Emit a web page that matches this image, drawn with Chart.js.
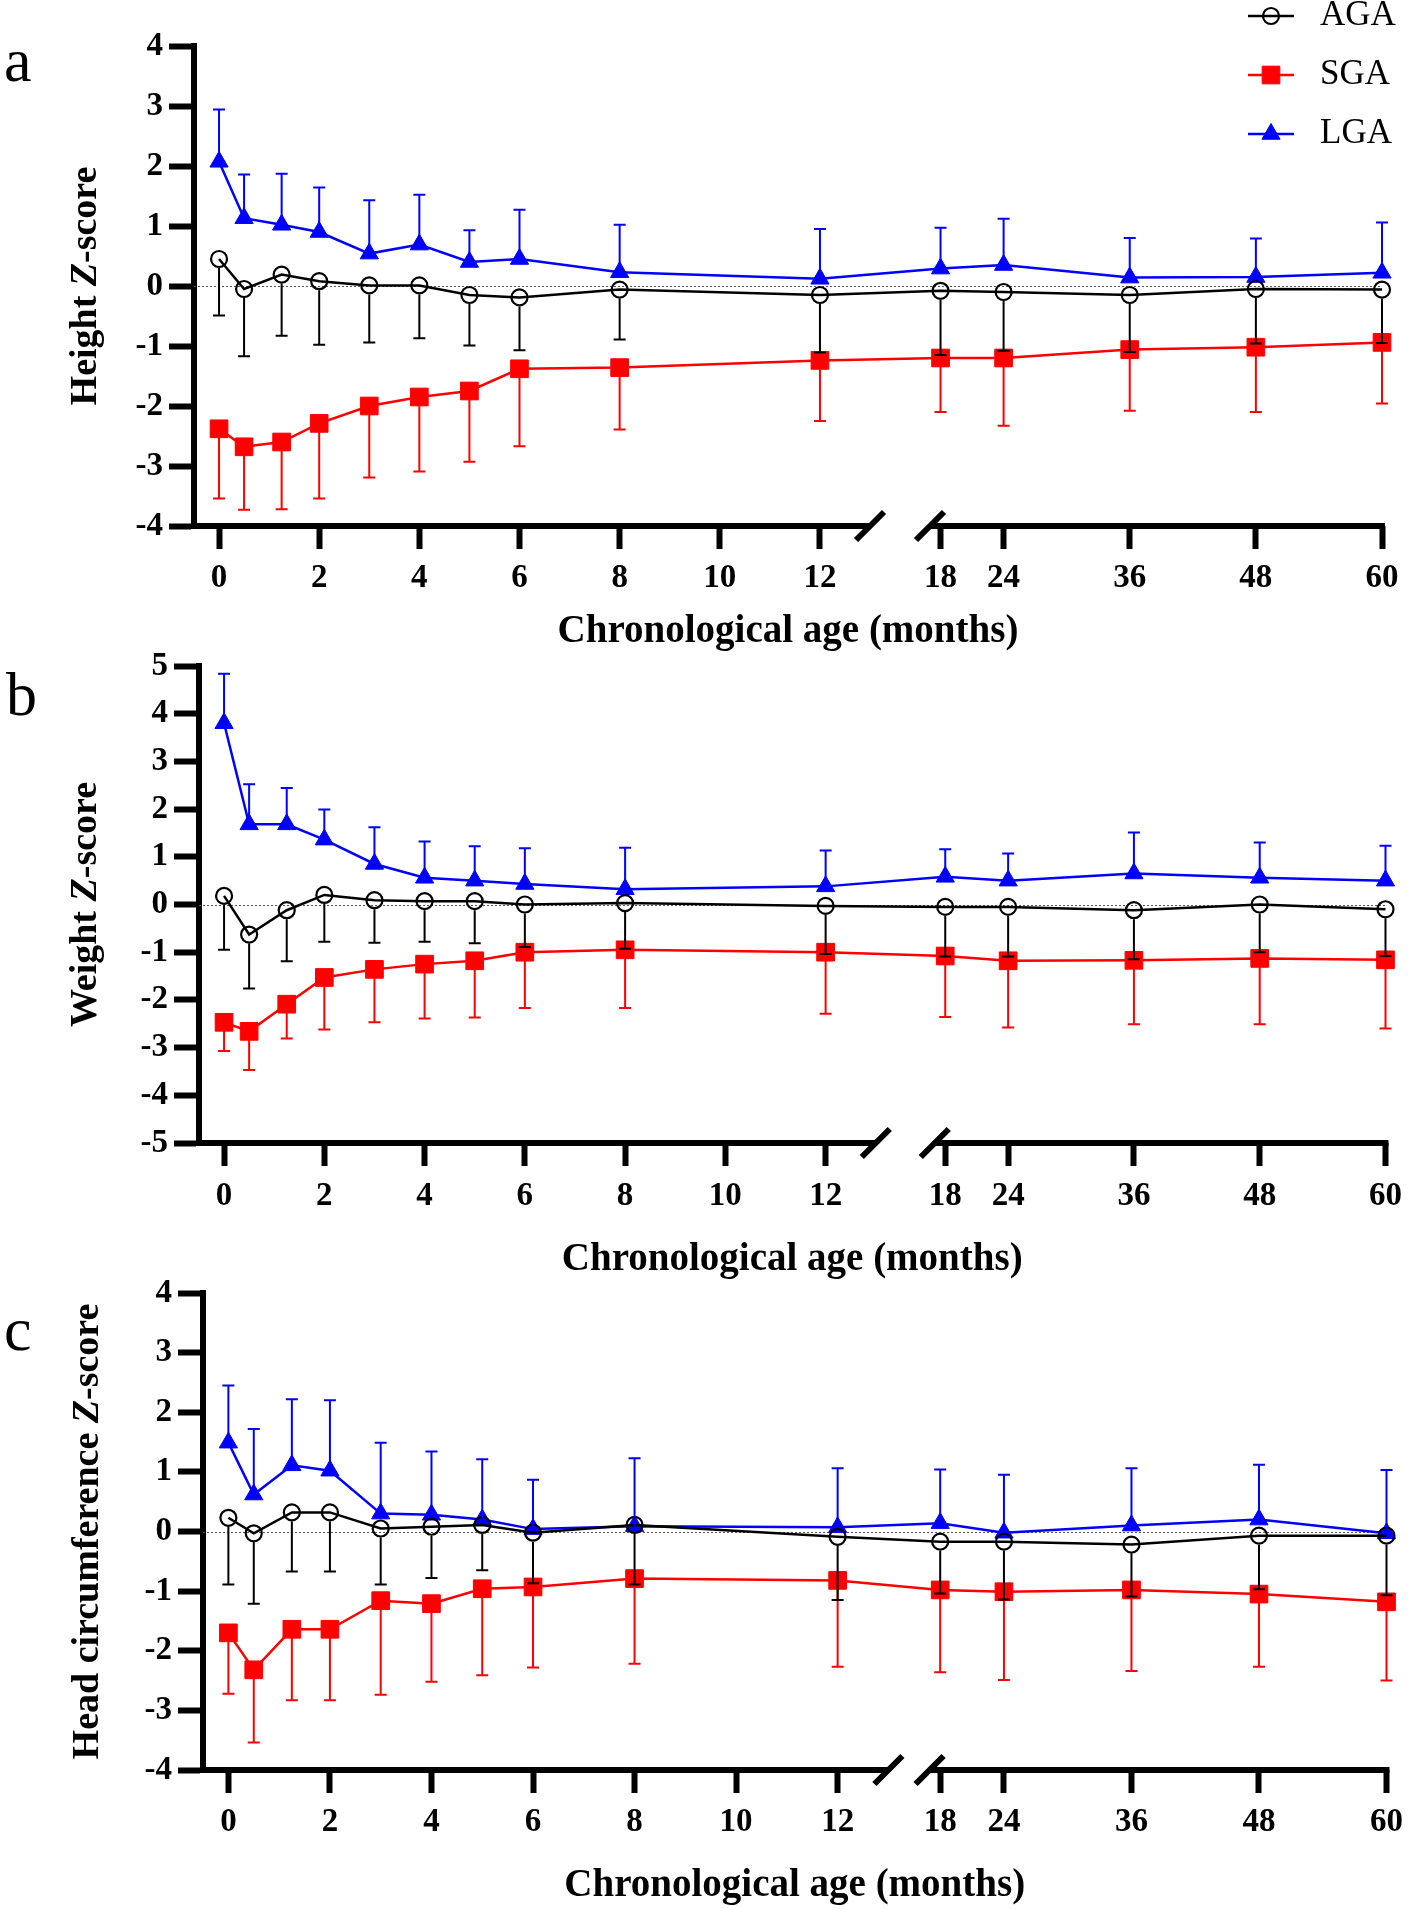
<!DOCTYPE html>
<html>
<head>
<meta charset="utf-8">
<title>Z-score by chronological age</title>
<script src="https://cdn.jsdelivr.net/npm/chart.js"></script>
<style>
  body { margin: 0; background: #fff; }
  .page { position: relative; width: 1416px; height: 1909px; overflow: hidden; background: #fff; }
  .page canvas { position: absolute; left: 0; }
</style>
</head>
<body>
<div class="page">
  <canvas id="chartA" width="1416" height="660" style="top:0px"></canvas>
  <canvas id="chartB" width="1416" height="645" style="top:640px"></canvas>
  <canvas id="chartC" width="1416" height="639" style="top:1270px"></canvas>
</div>
<script>
// time points in months
const months = [0, 0.5, 1.25, 2, 3, 4, 5, 6, 8, 12, 18, 24, 36, 48, 60];
const xTicks = [0, 2, 4, 6, 8, 10, 12, 18, 24, 36, 48, 60];
const groups = ['AGA', 'SGA', 'LGA'];

// a - height Z-score (mean, SD)
const heightAGA   = [0.45, -0.05, 0.19, 0.08, 0.01, 0.01, -0.15, -0.19, -0.06, -0.15, -0.08, -0.10, -0.15, -0.05, -0.06];
const heightAGAsd = [0.94, 1.12, 1.02, 1.06, 0.95, 0.88, 0.84, 0.88, 0.83, 0.96, 1.07, 0.98, 0.95, 0.91, 0.89];
const heightSGA   = [-2.38, -2.68, -2.60, -2.29, -2.00, -1.85, -1.75, -1.38, -1.36, -1.24, -1.20, -1.20, -1.06, -1.02, -0.94];
const heightSGAsd = [1.16, 1.05, 1.12, 1.25, 1.19, 1.24, 1.18, 1.29, 1.03, 1.01, 0.90, 1.13, 1.02, 1.08, 1.02];
const heightLGA   = [2.07, 1.13, 1.02, 0.90, 0.54, 0.69, 0.40, 0.45, 0.23, 0.12, 0.29, 0.35, 0.14, 0.15, 0.22];
const heightLGAsd = [0.87, 0.73, 0.85, 0.74, 0.89, 0.83, 0.53, 0.82, 0.79, 0.83, 0.68, 0.77, 0.66, 0.64, 0.84];

// b - weight Z-score
const weightAGA   = [0.18, -0.63, -0.12, 0.20, 0.09, 0.07, 0.07, 0.00, 0.03, -0.03, -0.05, -0.05, -0.12, 0.00, -0.10];
const weightAGAsd = [1.13, 1.13, 1.07, 0.98, 0.89, 0.85, 0.88, 0.89, 0.96, 1.01, 1.04, 1.04, 1.03, 1.00, 0.98];
const weightSGA   = [-2.47, -2.66, -2.09, -1.53, -1.36, -1.25, -1.18, -1.00, -0.95, -1.00, -1.08, -1.18, -1.17, -1.13, -1.16];
const weightSGAsd = [0.60, 0.81, 0.72, 1.09, 1.11, 1.14, 1.19, 1.17, 1.22, 1.29, 1.28, 1.40, 1.34, 1.38, 1.44];
const weightLGA   = [3.80, 1.68, 1.68, 1.36, 0.85, 0.56, 0.50, 0.43, 0.32, 0.38, 0.58, 0.50, 0.65, 0.56, 0.50];
const weightLGAsd = [1.04, 0.84, 0.76, 0.63, 0.77, 0.76, 0.72, 0.75, 0.87, 0.75, 0.58, 0.57, 0.86, 0.74, 0.73];

// c - head circumference Z-score
const headAGA   = [0.23, -0.03, 0.32, 0.32, 0.05, 0.08, 0.11, -0.02, 0.11, -0.09, -0.17, -0.17, -0.22, -0.07, -0.07];
const headAGAsd = [1.12, 1.18, 0.99, 0.99, 0.94, 0.86, 0.76, 0.85, 1.00, 1.06, 0.87, 0.97, 0.87, 0.90, 1.00];
const headSGA   = [-1.70, -2.32, -1.64, -1.64, -1.16, -1.21, -0.96, -0.93, -0.79, -0.82, -0.98, -1.01, -0.98, -1.05, -1.18];
const headSGAsd = [1.02, 1.22, 1.19, 1.19, 1.58, 1.31, 1.45, 1.35, 1.43, 1.45, 1.38, 1.48, 1.36, 1.22, 1.32];
const headLGA   = [1.49, 0.62, 1.11, 1.02, 0.30, 0.28, 0.20, 0.04, 0.09, 0.07, 0.14, -0.02, 0.10, 0.20, -0.03];
const headLGAsd = [0.96, 1.10, 1.11, 1.18, 1.19, 1.06, 1.01, 0.83, 1.14, 0.99, 0.90, 0.97, 0.96, 0.92, 1.06];

const FONT = '"Liberation Serif", "Times New Roman", serif';
Chart.defaults.font.family = FONT;
Chart.defaults.color = '#000';

// linear scale with a break between 12 and 18 months
class BrokenScale extends Chart.LinearScale {
  static id = 'broken';
  static defaults = {};
  fold(v) {
    const o = this.options;
    if (v <= (o.breakLo + o.breakHi) / 2) return v;
    return o.breakLo + o.breakGap + (v - o.breakHi) * o.breakScale;
  }
  getPixelForValue(v) {
    return super.getPixelForValue(this.fold(v));
  }
}
Chart.register(BrokenScale);

const styles = {
  AGA: { color: '#000000', pointStyle: 'circle', radius: 8, border: 2.2, fill: 'rgba(0,0,0,0)', dir: -1, gapPx: 9 },
  SGA: { color: '#ff0000', pointStyle: 'rect', radius: 12.5, border: 1, fill: '#ff0000', dir: -1, gapPx: 0 },
  LGA: { color: '#0000ff', pointStyle: 'triangle', radius: 10.5, border: 1, fill: '#0000ff', dir: 1, gapPx: 0 }
};

const panels = [
  { id: 'chartA', canvasTop: 0, canvasH: 660, letter: 'a', letterX: 4, letterY: 81,
    left: 194, right: 1382, plotTop: 46, plotBottom: 526, xTickPad: 13, titleY: 632,
    yTitle: ['Height ', 'Z', '-score'], yTitleX: 86, yMin: -4, yMax: 4,
    gap: 2.408, k: 0.2099, legend: true,
    means: [heightAGA, heightSGA, heightLGA], sds: [heightAGAsd, heightSGAsd, heightLGAsd] },
  { id: 'chartB', canvasTop: 640, canvasH: 645, letter: 'b', letterX: 6, letterY: 715,
    left: 199, right: 1393, plotTop: 666, plotBottom: 1143, xTickPad: 14, titleY: 1260,
    yTitle: ['Weight ', 'Z', '-score'], yTitleX: 86, yMin: -5, yMax: 5,
    gap: 2.386, k: 0.2091, legend: false,
    means: [weightAGA, weightSGA, weightLGA], sds: [weightAGAsd, weightSGAsd, weightLGAsd] },
  { id: 'chartC', canvasTop: 1270, canvasH: 639, letter: 'c', letterX: 4, letterY: 1350,
    left: 203, right: 1397, plotTop: 1293, plotBottom: 1770, xTickPad: 13, titleY: 1886,
    yTitle: ['Head circumference ', 'Z', '-score'], yTitleX: 88, yMin: -4, yMax: 4,
    gap: 2.02, k: 0.2093, legend: false,
    means: [headAGA, headSGA, headLGA], sds: [headAGAsd, headSGAsd, headLGAsd] }
];

function drawMarker(ctx, st, x, y) {
  ctx.beginPath();
  if (st.pointStyle === 'circle') {
    ctx.arc(x, y, st.radius, 0, Math.PI * 2);
  } else if (st.pointStyle === 'rect') {
    const s = st.radius * Math.SQRT1_2;
    ctx.rect(x - s, y - s, 2 * s, 2 * s);
  } else {
    for (let i = 0; i < 3; i++) {
      const t = i * 2 * Math.PI / 3;
      const px = x + Math.sin(t) * st.radius, py = y - Math.cos(t) * st.radius;
      if (i === 0) ctx.moveTo(px, py); else ctx.lineTo(px, py);
    }
    ctx.closePath();
  }
  ctx.fillStyle = st.fill;
  ctx.fill();
  ctx.lineWidth = st.border;
  ctx.strokeStyle = st.color;
  ctx.stroke();
}

function decor(p) {
  return {
    id: 'decor',
    beforeDatasetsDraw(chart) {
      const { ctx, chartArea: a } = chart;
      const y0 = Math.round(chart.scales.y.getPixelForValue(0)) + 0.5;
      ctx.save();
      ctx.strokeStyle = '#555';
      ctx.lineWidth = 1;
      ctx.setLineDash([2, 2]);
      ctx.beginPath();
      ctx.moveTo(a.left, y0);
      ctx.lineTo(a.right, y0);
      ctx.stroke();
      ctx.restore();
    },
    afterDatasetsDraw(chart) {
      // one-sided SD bars, black drawn last so its caps sit on the red squares
      const { ctx, scales: { y } } = chart;
      ctx.save();
      ctx.lineCap = 'butt';
      [1, 2, 0].forEach(i => {
        const ds = chart.data.datasets[i];
        const st = styles[ds.label];
        const meta = chart.getDatasetMeta(i);
        ctx.strokeStyle = st.color;
        ctx.lineWidth = 2;
        meta.data.forEach((pt, j) => {
          const end = y.getPixelForValue(ds.data[j].y + st.dir * ds.sd[j]);
          const start = pt.y - st.dir * st.gapPx;
          ctx.beginPath();
          ctx.moveTo(pt.x, start);
          ctx.lineTo(pt.x, end);
          ctx.moveTo(pt.x - 6, end);
          ctx.lineTo(pt.x + 6, end);
          ctx.stroke();
        });
      });
      ctx.restore();
    },
    afterDraw(chart) {
      const { ctx, chartArea: a, scales: { x } } = chart;
      ctx.save();
      // broken x axis
      const yb = a.bottom;
      const xl = x.getPixelForValue(13), xr = x.getPixelForValue(17);
      ctx.strokeStyle = '#000';
      ctx.lineWidth = 6;
      ctx.lineCap = 'butt';
      ctx.beginPath();
      ctx.moveTo(a.left - 3, yb);
      ctx.lineTo(xl, yb);
      ctx.moveTo(xr, yb);
      ctx.lineTo(a.right + 3, yb);
      ctx.stroke();
      [xl, xr].forEach(px => {
        ctx.beginPath();
        ctx.moveTo(px - 14, yb + 14);
        ctx.lineTo(px + 14, yb - 14);
        ctx.stroke();
      });

      // y title with italic Z
      const fonts = ['bold 38px ' + FONT, 'italic bold 38px ' + FONT, 'bold 38px ' + FONT];
      let total = 0;
      const widths = p.yTitle.map((t, i) => { ctx.font = fonts[i]; const w = ctx.measureText(t).width; total += w; return w; });
      ctx.translate(p.yTitleX, (a.top + a.bottom) / 2);
      ctx.rotate(-Math.PI / 2);
      ctx.fillStyle = '#000';
      ctx.textBaseline = 'middle';
      ctx.textAlign = 'left';
      let cx = -total / 2;
      p.yTitle.forEach((t, i) => { ctx.font = fonts[i]; ctx.fillText(t, cx, 0); cx += widths[i]; });
      ctx.restore();

      // panel letter
      ctx.save();
      ctx.font = '62px ' + FONT;
      ctx.fillStyle = '#000';
      ctx.textBaseline = 'alphabetic';
      ctx.fillText(p.letter, p.letterX, p.letterY - p.canvasTop);

      // legend
      if (p.legend) {
        const rows = [16, 75, 134];
        groups.forEach((g, i) => {
          const st = styles[g];
          const ry = rows[i];
          ctx.strokeStyle = st.color;
          ctx.lineWidth = 2.5;
          ctx.beginPath();
          ctx.moveTo(1248, ry);
          ctx.lineTo(1294, ry);
          ctx.stroke();
          drawMarker(ctx, st, 1271, ry);
          ctx.font = '35px ' + FONT;
          ctx.fillStyle = '#000';
          ctx.textBaseline = 'middle';
          ctx.textAlign = 'left';
          ctx.fillText(g, 1320, ry);
        });
      }
      ctx.restore();
    }
  };
}

panels.forEach(p => {
  const xAxisH = p.titleY + 19.5 - p.plotBottom;
  const datasets = groups.map((g, gi) => {
    const st = styles[g];
    return {
      label: g,
      data: months.map((m, j) => ({ x: m, y: p.means[gi][j] })),
      sd: p.sds[gi],
      borderColor: st.color,
      backgroundColor: st.fill,
      borderWidth: 2.5,
      pointStyle: st.pointStyle,
      pointRadius: st.radius,
      pointBorderWidth: st.border,
      pointBackgroundColor: st.fill,
      pointBorderColor: st.color,
      tension: 0,
      fill: false,
      clip: false
    };
  });
  const fold = v => v <= 15 ? v : 12 + p.gap + (v - 18) * p.k;

  new Chart(document.getElementById(p.id), {
    type: 'line',
    data: { datasets },
    options: {
      responsive: false,
      devicePixelRatio: 1,
      animation: false,
      events: [],
      layout: {
        autoPadding: false,
        padding: {
          left: 0,
          right: 1416 - p.right,
          top: p.plotTop - p.canvasTop,
          bottom: p.canvasTop + p.canvasH - p.plotBottom - xAxisH
        }
      },
      plugins: { legend: { display: false }, tooltip: { enabled: false } },
      scales: {
        x: {
          type: 'broken',
          bounds: 'data',
          breakLo: 12, breakHi: 18, breakGap: p.gap, breakScale: p.k,
          // range set here (in folded units) so that no data point is treated as out of view
          afterDataLimits: s => { s.min = -0.5; s.max = fold(60); },
          afterBuildTicks: s => { s.ticks = xTicks.map(v => ({ value: v })); },
          afterFit: s => { s.height = xAxisH; },
          ticks: {
            autoSkip: false, maxRotation: 0, padding: p.xTickPad, color: '#000',
            font: { size: 33, weight: 'bold', lineHeight: 1 },
            callback: v => String(v)
          },
          grid: { drawOnChartArea: false, tickLength: 23, tickWidth: 6, tickColor: '#000' },
          border: { display: false },
          title: {
            display: true, text: 'Chronological age (months)', color: '#000', padding: 0,
            font: { size: 39, weight: 'bold', lineHeight: 1 }
          }
        },
        y: {
          min: p.yMin, max: p.yMax,
          afterFit: s => { s.width = p.left; },
          ticks: { stepSize: 1, padding: 6, color: '#000', font: { size: 33, weight: 'bold', lineHeight: 1 } },
          grid: { drawOnChartArea: false, tickLength: 25, tickWidth: 6, tickColor: '#000' },
          border: { display: true, width: 6, color: '#000' }
        }
      }
    },
    plugins: [decor(p)]
  });
});
</script>
</body>
</html>
